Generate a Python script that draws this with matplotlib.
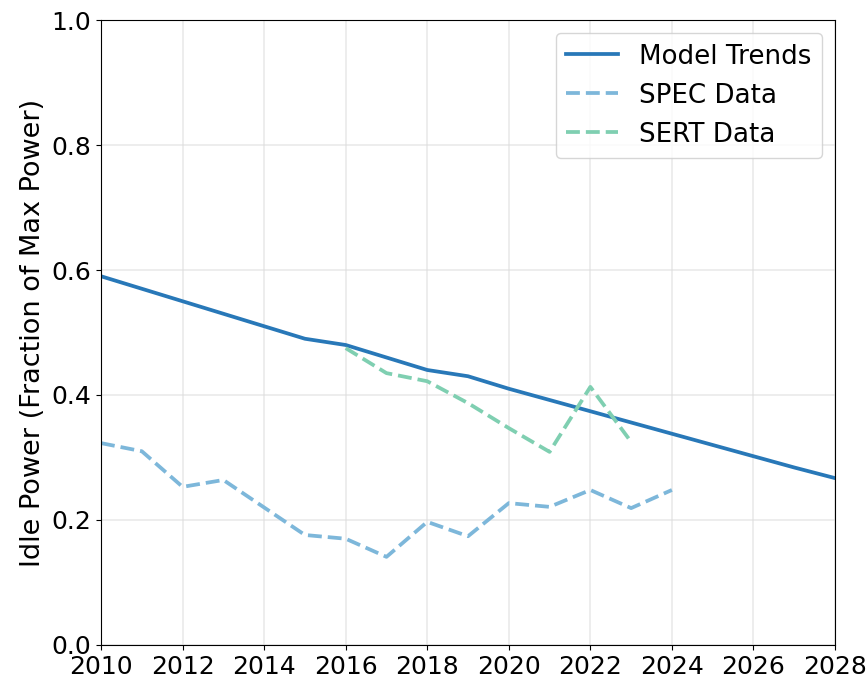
import matplotlib
matplotlib.use("Agg")
import matplotlib.pyplot as plt

# model trend (idle power as fraction of max power)
model_years = [2010, 2011, 2012, 2013, 2014, 2015, 2016, 2017, 2018, 2019,
               2020, 2021, 2022, 2023, 2024, 2025, 2026, 2027, 2028]
model_vals = [0.59, 0.57, 0.55, 0.53, 0.51, 0.49, 0.48, 0.46, 0.44, 0.43,
              0.41, 0.392, 0.374, 0.356, 0.338, 0.32, 0.302, 0.284, 0.267]

spec_years = [2010, 2011, 2012, 2013, 2014, 2015, 2016, 2017, 2018, 2019,
              2020, 2021, 2022, 2023, 2024]
spec_vals = [0.323, 0.31, 0.253, 0.264, 0.22, 0.176, 0.17, 0.141, 0.197, 0.174,
             0.227, 0.221, 0.248, 0.219, 0.248]

sert_years = [2016, 2017, 2018, 2019, 2020, 2021, 2022, 2023]
sert_vals = [0.475, 0.435, 0.422, 0.387, 0.347, 0.309, 0.413, 0.325]

plt.rcParams['font.size'] = 18

fig = plt.figure(figsize=(8.68, 6.81), dpi=100)
ax = fig.add_axes([0.1164, 0.0529, 0.8456, 0.9177])

ax.plot(model_years, model_vals, color='#2878b8', lw=2.7, label='Model Trends')
ax.plot(spec_years, spec_vals, color='#7db7da', lw=2.7, ls='--', label='SPEC Data')
ax.plot(sert_years, sert_vals, color='#7fcfb1', lw=2.7, ls='--', label='SERT Data')

ax.set_xlim(2010, 2028)
ax.set_ylim(0, 1.0)
ax.set_xticks(range(2010, 2029, 2))
ax.set_yticks([0.0, 0.2, 0.4, 0.6, 0.8, 1.0])
ax.set_ylabel('Idle Power (Fraction of Max Power)', fontsize=19.5, labelpad=4)
ax.grid(True, color='#dddddd', alpha=0.6, lw=1.2)
ax.legend(loc='upper right', fontsize=18.8, borderaxespad=0.5)

fig.savefig('out.png', dpi=100)
